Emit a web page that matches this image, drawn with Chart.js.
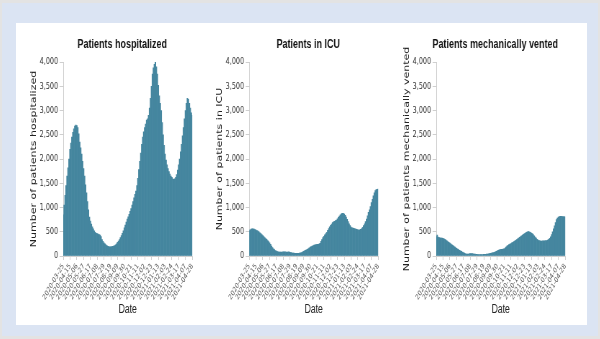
<!DOCTYPE html>
<html>
<head>
<meta charset="utf-8">
<script src="https://cdn.jsdelivr.net/npm/chart.js@4.4.1/dist/chart.umd.min.js"></script>
<style>
  html, body { margin: 0; padding: 0; }
  body { width: 600px; height: 339px; background: #e3e3e3; position: relative; overflow: hidden; }
  #frame { position: absolute; left: 2px; top: 3px; width: 596px; height: 333px; background: #dbe4f3; }
  #panel { position: absolute; left: 16px; top: 23px; width: 571px; height: 302px; background: #ffffff; }
  .chart { position: absolute; top: 25px; width: 284px; height: 300px; transform: scaleX(0.72); transform-origin: 0 0; }
</style>
</head>
<body>
<div id="frame"></div>
<div id="panel"></div>
<div class="chart" style="left:20px"><canvas id="c1" width="284" height="300"></canvas></div>
<div class="chart" style="left:206px"><canvas id="c2" width="284" height="300"></canvas></div>
<div class="chart" style="left:392.5px"><canvas id="c3" width="284" height="300"></canvas></div>
<script>
// Reporting runs every 3 days; a date label every 7th report (3 weeks)
const startDate = '2020-03-25';
const stepDays = 3;
const labelEvery = 7;

const hospitalized = [
  850, 1050, 1250, 1450, 1650, 1820, 2000, 2200, 2330, 2450,
  2550, 2620, 2680, 2700, 2690, 2650, 2520, 2350, 2230, 2100,
  1950, 1800, 1650, 1470, 1300, 1120, 950, 800, 720, 660,
  600, 560, 520, 490, 470, 460, 450, 440, 430, 400,
  340, 300, 270, 250, 230, 215, 200, 195, 190, 190,
  195, 200, 205, 215, 230, 250, 280, 310, 340, 380,
  420, 470, 520, 580, 640, 700, 760, 810, 860, 920,
  980, 1050, 1120, 1200, 1270, 1340, 1450, 1600, 1780, 1950,
  2120, 2300, 2450, 2560, 2650, 2720, 2800, 2830, 2900, 3050,
  3250, 3500, 3750, 3880, 3950, 4020, 3900, 3750, 3520, 3300,
  3150, 3000, 2750, 2500, 2280, 2100, 1980, 1880, 1800, 1740,
  1690, 1650, 1620, 1590, 1580, 1590, 1620, 1680, 1770, 1880,
  2000, 2150, 2300, 2480, 2650, 2830, 3000, 3150, 3250, 3230,
  3150, 3050, 2950, 2900
];

const icu = [
  520, 540, 555, 560, 560, 555, 545, 535, 525, 515,
  500, 480, 460, 440, 420, 400, 380, 360, 345, 320,
  295, 270, 240, 205, 175, 150, 130, 112, 100, 92,
  85, 82, 80, 80, 82, 85, 88, 86, 82, 80,
  82, 84, 78, 70, 64, 62, 58, 55, 55, 54,
  55, 55, 58, 65, 72, 82, 95, 108, 118, 125,
  140, 155, 170, 182, 192, 205, 215, 225, 232, 238,
  240, 240, 245, 262, 300, 340, 378, 405, 435, 460,
  490, 530, 565, 600, 630, 660, 690, 705, 715, 728,
  740, 765, 795, 825, 848, 868, 880, 878, 865, 840,
  800, 755, 710, 665, 625, 595, 580, 575, 568, 560,
  555, 548, 540, 536, 538, 548, 565, 590, 625, 665,
  710, 760, 830, 900, 950, 1020, 1100, 1170, 1240, 1300,
  1350, 1370, 1375, 1380
];

const vented = [
  400, 430, 390, 380, 375, 372, 368, 362, 355, 345,
  330, 315, 298, 282, 265, 250, 235, 220, 205, 190,
  175, 160, 145, 130, 118, 105, 95, 82, 70, 58,
  48, 42, 40, 42, 45, 48, 50, 48, 45, 42,
  38, 35, 33, 30, 28, 28, 27, 28, 30, 32,
  33, 35, 38, 42, 46, 50, 55, 60, 65, 70,
  78, 88, 98, 108, 118, 125, 130, 135, 140, 145,
  150, 165, 185, 205, 222, 235, 245, 258, 270, 282,
  295, 310, 325, 340, 355, 370, 385, 400, 415, 430,
  445, 460, 475, 490, 500, 505, 500, 490, 475, 460,
  440, 415, 390, 368, 345, 330, 318, 312, 310, 310,
  312, 314, 315, 316, 320, 330, 345, 365, 395, 440,
  500, 560, 620, 690, 750, 780, 800, 815, 820, 818,
  815, 812, 810, 810
];

const yTickValues = [0, 500, 1000, 1500, 2000, 2500, 3000, 3500, 4000];

const titles = ['Patients hospitalized', 'Patients in ICU', 'Patients mechanically vented'];
const yTitles = ['Number of patients hospitalized', 'Number of patients in ICU', 'Number of patients mechanically vented'];
const xTitle = 'Date';

// Category labels: one ISO date per report
const start = new Date(startDate + 'T00:00:00Z').getTime();
const dates = hospitalized.map((_, i) =>
  new Date(start + i * stepDays * 86400000).toISOString().slice(0, 10));

Chart.defaults.font.family = "'DejaVu Sans', sans-serif";
Chart.defaults.color = '#333';

const barColor = '#45869f';
const axisColor = '#cfcfcf';

function drawPanel(canvasId, values, title, yTitle) {
  return new Chart(document.getElementById(canvasId), {
    type: 'bar',
    data: {
      labels: dates,
      datasets: [{
        data: values,
        backgroundColor: barColor,
        borderWidth: 0,
        barPercentage: 1,
        categoryPercentage: 1
      }]
    },
    options: {
      responsive: false,
      animation: false,
      devicePixelRatio: 1,
      layout: { padding: 0 },
      plugins: {
        legend: { display: false },
        tooltip: { enabled: false },
        title: {
          display: true,
          text: title,
          color: '#111',
          font: { family: "'Liberation Sans', Arial, sans-serif", size: 12.5, weight: 'bold', lineHeight: 1.2 },
          padding: { top: 12.5, bottom: 9.5 }
        }
      },
      scales: {
        x: {
          type: 'category',
          offset: false,
          grid: { display: true, drawOnChartArea: false, drawTicks: true, tickLength: 4, color: axisColor, offset: false },
          border: { display: true, color: axisColor },
          ticks: {
            autoSkip: false,
            minRotation: 52,
            maxRotation: 52,
            padding: 2,
            color: '#555',
            font: { size: 7.5 },
            callback: function (value, index) {
              return index % labelEvery === 0 ? this.getLabelForValue(value) : null;
            }
          },
          title: {
            display: true,
            text: xTitle,
            color: '#222',
            font: { family: "'Liberation Sans', Arial, sans-serif", size: 12, lineHeight: 1.2 },
            padding: { top: 4, bottom: 7.8 }
          },
          afterFit: (scale) => { scale.height = 69; }
        },
        y: {
          min: 0,
          max: 4000,
          grid: { display: true, drawOnChartArea: false, drawTicks: true, tickLength: 5, color: axisColor },
          border: { display: true, color: axisColor },
          afterBuildTicks: (scale) => { scale.ticks = yTickValues.map(v => ({ value: v })); },
          ticks: {
            padding: 2,
            color: '#333',
            font: { size: 9 },
            callback: (v) => Number(v).toLocaleString('en-US')
          },
          title: {
            display: true,
            text: yTitle,
            color: '#222',
            font: { size: 11, lineHeight: 1.2 },
            padding: { top: 12.7, bottom: 0 }
          },
          afterFit: (scale) => { scale.width = 60; }
        },
        // empty right-hand gutter so the title centres over the whole panel
        gutter: {
          axis: 'y',
          type: 'linear',
          position: 'right',
          display: true,
          grid: { display: false },
          border: { display: false },
          ticks: { display: false },
          afterFit: (scale) => { scale.width = 44.8; }
        }
      }
    }
  });
}

drawPanel('c1', hospitalized, titles[0], yTitles[0]);
drawPanel('c2', icu, titles[1], yTitles[1]);
drawPanel('c3', vented, titles[2], yTitles[2]);
</script>
</body>
</html>
